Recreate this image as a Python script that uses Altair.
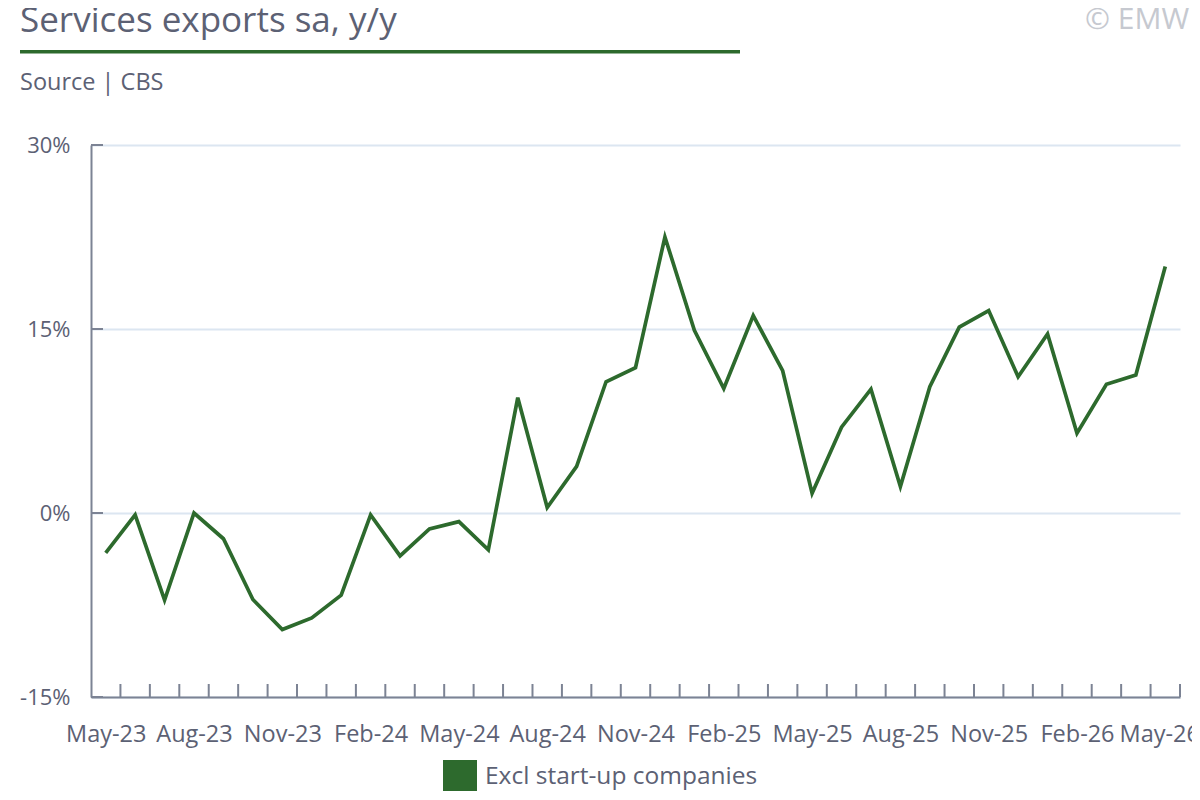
import altair as alt
import pandas as pd

months = ["May-23", "Jun-23", "Jul-23", "Aug-23", "Sep-23", "Oct-23", "Nov-23", "Dec-23",
          "Jan-24", "Feb-24", "Mar-24", "Apr-24", "May-24", "Jun-24", "Jul-24", "Aug-24",
          "Sep-24", "Oct-24", "Nov-24", "Dec-24", "Jan-25", "Feb-25", "Mar-25", "Apr-25",
          "May-25", "Jun-25", "Jul-25", "Aug-25", "Sep-25", "Oct-25", "Nov-25", "Dec-25",
          "Jan-26", "Feb-26", "Mar-26", "Apr-26", "May-26"]
values = [-3.25, -0.15, -7.1, 0.0, -2.1, -7.05, -9.5, -8.55, -6.7, -0.15, -3.5, -1.3,
          -0.7, -3.0, 9.4, 0.45, 3.8, 10.7, 11.85, 22.5, 14.9, 10.15, 16.1, 11.6,
          1.6, 7.0, 10.1, 2.15, 10.3, 15.15, 16.5, 11.1, 14.6, 6.5, 10.5, 11.25, 20.1]
series_name = "Excl start-up companies"
y_ticks = [-15, 0, 15, 30]
label_every = 3

TITLE = "Services exports sa, y/y"
SUBTITLE = "Source | CBS"
COPYRIGHT = "© EMW"

GREEN = "#2d6a2d"
TEXT = "#5c6174"
AXIS = "#7c8394"
GRID = "#dce6f1"
FONT = "Open Sans"

n = len(months)
df = pd.DataFrame({"idx": list(range(n)), "month": months, "value": values,
                   "series": [series_name] * n})
tick_df = pd.DataFrame({"pos": [i + 0.5 for i in range(n)]})
ytick_df = pd.DataFrame({"v": y_ticks})
one = pd.DataFrame({"a": [0]})

label_arr = "[" + ",".join("'" + m + "'" for m in months) + "]"

xscale = alt.Scale(domain=[-0.5, n - 0.5], nice=False, zero=False)
yscale = alt.Scale(domain=[y_ticks[0], y_ticks[-1]], nice=False)

line = alt.Chart(df).mark_line(strokeWidth=3.7).encode(
    x=alt.X("idx:Q", scale=xscale, title=None,
            axis=alt.Axis(values=list(range(0, n, label_every)),
                          labelExpr=label_arr + "[datum.value]",
                          labelOffset={"condition": {"test": f"datum.value == {n - 1}",
                                                     "value": -6},
                                       "value": 0},
                          ticks=False, grid=False, domainColor=AXIS, domainWidth=2,
                          labelFontSize=23.5, labelColor=TEXT, labelFont=FONT,
                          labelPadding=25, labelFlush=False, labelOverlap=False)),
    y=alt.Y("value:Q", scale=yscale, title=None,
            axis=alt.Axis(values=y_ticks, labelExpr="datum.value + '%'",
                          ticks=False, grid=True, gridColor=GRID, gridWidth=2,
                          domainColor=AXIS, domainWidth=2,
                          labelFontSize=22, labelColor=TEXT, labelFont=FONT,
                          labelPadding=21)),
    color=alt.Color("series:N", scale=alt.Scale(range=[GREEN]), title=None,
                    legend=alt.Legend(orient="none", legendX=352, legendY=615,
                                      symbolType="square", symbolSize=1156,
                                      symbolFillColor=GREEN, symbolStrokeWidth=0,
                                      labelFontSize=24.5, labelColor=TEXT, labelFont=FONT,
                                      labelOffset=8, labelLimit=600, padding=0)),
)

xticks = alt.Chart(tick_df).mark_rule(color=AXIS, strokeWidth=2).encode(
    x=alt.X("pos:Q", scale=xscale),
    y=alt.value(552), y2=alt.value(539),
)

yticks = alt.Chart(ytick_df).mark_rule(color=AXIS, strokeWidth=2).encode(
    y=alt.Y("v:Q", scale=yscale),
    x=alt.value(0), x2=alt.value(12),
)

title = alt.Chart(one).mark_text(text=TITLE, fontSize=35, font=FONT, color=TEXT,
                                 align="left", baseline="alphabetic").encode(
    x=alt.value(-71), y=alt.value(-113))
underline = alt.Chart(one).mark_rule(color=GREEN, strokeWidth=3.5).encode(
    x=alt.value(-71), x2=alt.value(649), y=alt.value(-93.3))
subtitle = alt.Chart(one).mark_text(text=SUBTITLE, fontSize=23.5, font=FONT, color=TEXT,
                                    align="left", baseline="alphabetic").encode(
    x=alt.value(-71), y=alt.value(-55))
copyright_ = alt.Chart(one).mark_text(text=COPYRIGHT, fontSize=30, font=FONT,
                                      color="#c6c9d0", align="left",
                                      baseline="alphabetic").encode(
    x=alt.value(994), y=alt.value(-116))

chart = alt.layer(line, xticks, yticks, title, underline, subtitle, copyright_).properties(
    width=1089, height=552,
    autosize=alt.AutoSizeParams(type="none"),
    padding={"left": 83, "top": 137, "right": 12, "bottom": 94},
).configure_view(strokeWidth=0)

chart.save("out.html", embed_options={"renderer": "svg", "actions": False})
